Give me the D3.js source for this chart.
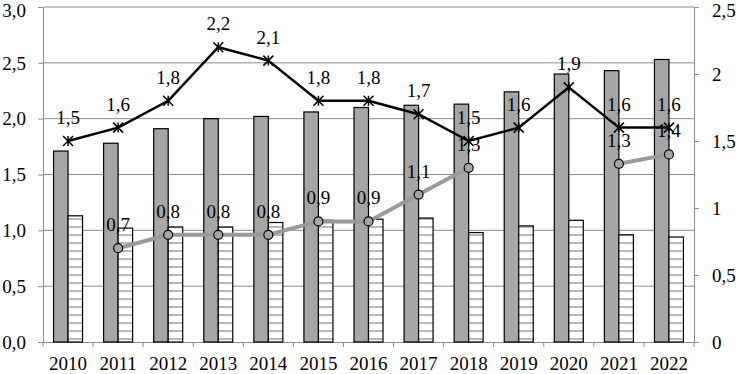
<!DOCTYPE html>
<html>
<head>
<meta charset="utf-8">
<script src="https://cdn.jsdelivr.net/npm/d3@7"></script>
<style>
  body { margin: 0; background: #fff; }
</style>
</head>
<body>
<div class="chart-container"></div>
<script>
// Data
const years = ['2010','2011','2012','2013','2014','2015','2016','2017','2018','2019','2020','2021','2022'];
const grayBars = [1.71, 1.78, 1.91, 2.00, 2.02, 2.06, 2.10, 2.12, 2.13, 2.24, 2.40, 2.43, 2.53];
const hatchBars = [1.13, 1.02, 1.03, 1.03, 1.07, 1.09, 1.10, 1.11, 0.98, 1.04, 1.09, 0.96, 0.94];
const blackLine = [1.5, 1.6, 1.8, 2.2, 2.1, 1.8, 1.8, 1.7, 1.5, 1.6, 1.9, 1.6, 1.6];
const grayLine = [null, 0.7, 0.8, 0.8, 0.8, 0.9, 0.9, 1.1, 1.3, null, null, 1.33, 1.4];
const leftTicks = [0, 0.5, 1, 1.5, 2, 2.5, 3];
const rightTicks = [0, 0.5, 1, 1.5, 2, 2.5];

const FONT = "'Liberation Serif', 'Times New Roman', 'DejaVu Serif', serif";
const W = 736, H = 374;
const margin = { top: 7, right: 42, bottom: 32, left: 43 };
const width = W - margin.left - margin.right;
const height = H - margin.top - margin.bottom;

const fmt = d => d3.format('.1f')(d).replace('.', ',');
const fmtR = d => String(d).replace('.', ',');

const svg = d3.select('.chart-container').append('svg')
    .attr('width', W).attr('height', H)
    .attr('font-family', FONT).attr('font-size', 19);

const defs = svg.append('defs');
const pat = defs.append('pattern')
    .attr('id', 'hatch').attr('patternUnits', 'userSpaceOnUse')
    .attr('width', 8).attr('height', 8);
pat.append('rect').attr('width', 8).attr('height', 8).attr('fill', '#fff');
pat.append('line').attr('x1', 0).attr('x2', 8).attr('y1', 4).attr('y2', 4)
    .attr('stroke', '#8a8a8a').attr('stroke-width', 1.2);

const g = svg.append('g').attr('transform', `translate(${margin.left},${margin.top})`);

// Scales
const xScale = d3.scaleBand().domain(years).range([0, width]).padding(0);
const yLeft = d3.scaleLinear().domain([0, 3]).range([height, 0]);
const yRight = d3.scaleLinear().domain([0, 2.5]).range([height, 0]);
const cx = d => xScale(d) + xScale.bandwidth() / 2;
const barW = 14.5;

function styleText(sel) {
    sel.attr('font-family', FONT).attr('font-size', 19).attr('fill', '#000');
}

// Gridlines
g.append('g').selectAll('line').data(leftTicks.filter(d => d > 0)).join('line')
    .attr('x1', 0).attr('x2', width)
    .attr('y1', d => yLeft(d)).attr('y2', d => yLeft(d))
    .attr('stroke', '#8c8c8c').attr('stroke-width', 1);

// Left axis
const leftAxis = d3.axisLeft(yLeft).tickValues(leftTicks).tickFormat(fmt).tickSizeInner(5).tickSizeOuter(0);
const la = g.append('g').call(leftAxis).call(styleText);
la.select('.domain').attr('stroke', '#8c8c8c');
la.selectAll('.tick line').attr('stroke', '#8c8c8c');
la.selectAll('.tick text').attr('x', -17).attr('dy', '0.33em').call(styleText);
la.selectAll('.tick text').filter(d => d === 3).attr('y', 3);

// Right axis
const rightAxis = d3.axisRight(yRight).tickValues(rightTicks).tickFormat(fmtR).tickSizeInner(5).tickSizeOuter(0);
const ra = g.append('g').attr('transform', `translate(${width},0)`).call(rightAxis).call(styleText);
ra.select('.domain').attr('stroke', '#8c8c8c');
ra.selectAll('.tick line').attr('stroke', '#8c8c8c');
ra.selectAll('.tick text').attr('x', 18).attr('dy', '0.33em').call(styleText);
ra.selectAll('.tick text').filter(d => d === 2.5).attr('y', 3);

// Bottom axis
const xa = g.append('g').attr('transform', `translate(0,${height})`)
    .call(d3.axisBottom(xScale).tickSize(0)).call(styleText);
xa.select('.domain').attr('stroke', '#8c8c8c');
xa.selectAll('.tick text').attr('y', 28).attr('dy', 0).call(styleText);
xa.selectAll('.bound').data(d3.range(years.length + 1)).join('line')
    .attr('class', 'bound')
    .attr('x1', i => i * xScale.bandwidth()).attr('x2', i => i * xScale.bandwidth())
    .attr('y1', 0).attr('y2', 5).attr('stroke', '#8c8c8c');

// Bars
g.append('g').selectAll('rect').data(years).join('rect')
    .attr('x', d => cx(d) - barW).attr('width', barW)
    .attr('y', (d, i) => yLeft(grayBars[i]))
    .attr('height', (d, i) => height - yLeft(grayBars[i]))
    .attr('fill', '#a6a6a6').attr('stroke', '#000').attr('stroke-width', 1.2);

g.append('g').selectAll('rect').data(years).join('rect')
    .attr('x', d => cx(d)).attr('width', barW)
    .attr('y', (d, i) => yLeft(hatchBars[i]))
    .attr('height', (d, i) => height - yLeft(hatchBars[i]))
    .attr('fill', 'url(#hatch)').attr('stroke', '#000').attr('stroke-width', 1.2);

// Gray line
const grayPts = years.map((d, i) => ({ x: cx(d), v: grayLine[i] }));
const lineGen = d3.line().defined(d => d.v != null).x(d => d.x).y(d => yRight(d.v));
g.append('path').datum(grayPts).attr('d', lineGen)
    .attr('fill', 'none').attr('stroke', '#9a9a9a').attr('stroke-width', 4);
g.append('g').selectAll('circle').data(grayPts.filter(d => d.v != null)).join('circle')
    .attr('cx', d => d.x).attr('cy', d => yRight(d.v)).attr('r', 4.5)
    .attr('fill', '#a6a6a6').attr('stroke', '#000').attr('stroke-width', 1.2);

// Black line
const blackPts = years.map((d, i) => ({ x: cx(d), v: blackLine[i] }));
g.append('path').datum(blackPts).attr('d', lineGen)
    .attr('fill', 'none').attr('stroke', '#000').attr('stroke-width', 2.5);
const star = g.append('g').selectAll('g').data(blackPts).join('g')
    .attr('transform', d => `translate(${d.x},${yRight(d.v)})`);
const s = 5;
star.append('path')
    .attr('d', `M${-s},${-s}L${s},${s}M${-s},${s}L${s},${-s}M0,${-s}L0,${s}`)
    .attr('stroke', '#000').attr('stroke-width', 1.5);

// Labels
g.append('g').selectAll('text').data(grayPts.filter(d => d.v != null)).join('text')
    .attr('x', d => d.x).attr('y', d => yRight(d.v) - 17)
    .attr('text-anchor', 'middle').text(d => fmt(d.v)).call(styleText);
g.append('g').selectAll('text').data(blackPts).join('text')
    .attr('x', d => d.x).attr('y', d => yRight(d.v) - 17)
    .attr('text-anchor', 'middle').text(d => fmt(d.v)).call(styleText);
</script>
</body>
</html>
